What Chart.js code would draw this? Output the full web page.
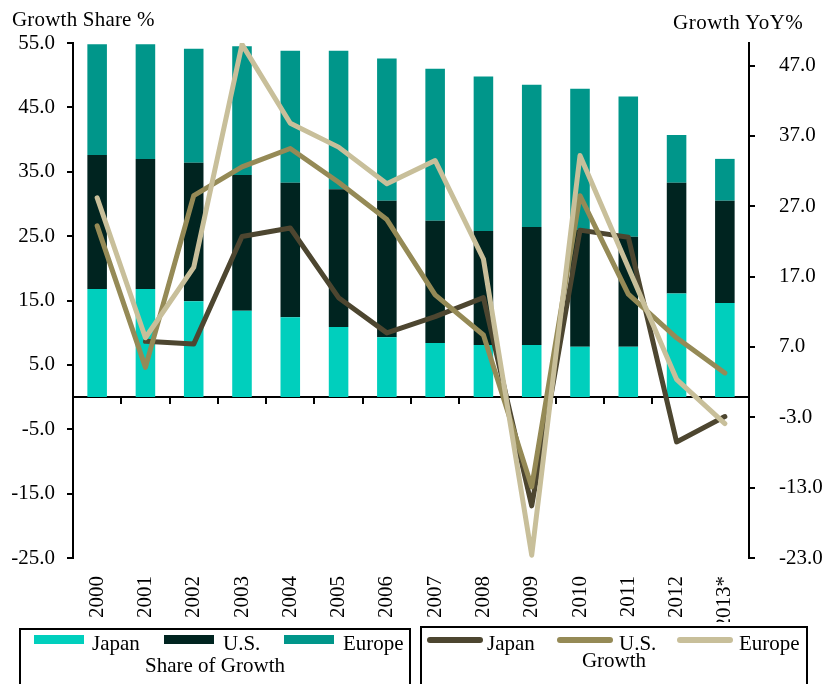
<!DOCTYPE html>
<html>
<head>
<meta charset="utf-8">
<script src="https://cdn.jsdelivr.net/npm/chart.js@4.4.1/dist/chart.umd.min.js"></script>
<style>
  html, body { margin: 0; padding: 0; background: #fff; }
  #wrap { position: relative; width: 826px; height: 684px; overflow: hidden;
          font-family: 'Liberation Serif', 'Times New Roman', serif; font-size: 21px; color: #000; }
  #wrap canvas { position: absolute; left: 0; top: 0; }
  .t { position: absolute; line-height: 21px; white-space: nowrap; }
  .box { position: absolute; border: 2px solid #000; box-sizing: border-box; }
  .sw { position: absolute; }
</style>
</head>
<body>
<div id="wrap">
  <canvas id="c" width="826" height="684"></canvas>
  <div class="t" style="left:12px;top:9px;letter-spacing:0.2px;">Growth Share %</div>
  <div class="t" style="left:673px;top:12px;letter-spacing:0.5px;">Growth YoY%</div>
  <div class="box" id="legShare" style="left:19px;top:628px;width:392px;height:70px;"></div>
  <div class="box" id="legGrowth" style="left:420px;top:626px;width:388px;height:70px;"></div>
</div>
<script>
// Categories
const years = ['2000', '2001', '2002', '2003', '2004', '2005', '2006', '2007', '2008', '2009', '2010', '2011', '2012', '2013*'];

// Share of growth (%), stacked bars: Japan + U.S. + Europe
const shareJapan  = [16.8, 16.8, 14.9, 13.4, 12.4, 10.9, 9.3, 8.4, 8.1, 8.1, 7.8, 7.8, 16.1, 14.6];
const shareUS     = [20.8, 20.2, 21.5, 21.1, 20.9, 21.4, 21.2, 19.0, 17.7, 18.3, 18.2, 17.1, 17.2, 15.9];
const shareEurope = [17.2, 17.8, 17.7, 20.0, 20.5, 21.5, 22.1, 23.6, 24.0, 22.1, 21.9, 21.8, 7.4, 6.5];

// Growth year on year (%), lines on the right axis
const growthJapan  = [null, 7.8, 7.4, 22.7, 23.9, 14.0, 9.0, 11.3, 14.0, -15.6, 23.6, 22.6, -6.5, -2.9];
const growthUS     = [24.2, 4.1, 28.5, 32.6, 35.2, 30.4, 25.1, 14.4, 8.7, -12.9, 28.5, 14.5, 8.3, 3.3];
const growthEurope = [28.2, 8.3, 18.3, 50.0, 38.8, 35.4, 30.2, 33.5, 19.5, -22.6, 34.2, 18.3, 2.4, -3.9];

// Axis tick values
const leftTicks  = [-25, -15, -5, 5, 15, 25, 35, 45, 55];
const rightTicks = [-23, -13, -3, 7, 17, 27, 37, 47];

const seriesNames = ['Japan', 'U.S.', 'Europe'];
const barColors  = ['#00CFBD', '#002420', '#00968A'];
const lineColors = ['#4D4630', '#958A56', '#C8BF9A'];

const FONT = { family: "'Liberation Serif', 'Times New Roman', serif", size: 21 };

const barSet = (label, data, color) => ({
  type: 'bar', label, data, backgroundColor: color, borderWidth: 0,
  xAxisID: 'x', yAxisID: 'y', stack: 'share', order: 4,
  barPercentage: 0.405, categoryPercentage: 1.0
});
const lineSet = (label, data, color, order) => ({
  type: 'line', label, data, borderColor: color, backgroundColor: color,
  borderWidth: 5, pointRadius: 0, pointHoverRadius: 0, fill: false, tension: 0,
  borderCapStyle: 'round', borderJoinStyle: 'round',
  xAxisID: 'x', yAxisID: 'y1', order
});

new Chart(document.getElementById('c'), {
  type: 'bar',
  data: {
    labels: years,
    datasets: [
      barSet('Japan', shareJapan, barColors[0]),
      barSet('U.S.', shareUS, barColors[1]),
      barSet('Europe', shareEurope, barColors[2]),
      lineSet('Japan', growthJapan, lineColors[0], 3),
      lineSet('U.S.', growthUS, lineColors[1], 2),
      lineSet('Europe', growthEurope, lineColors[2], 1)
    ]
  },
  options: {
    responsive: false,
    devicePixelRatio: 1,
    animation: false,
    layout: { padding: { top: 43, bottom: 62, left: 0, right: 0 } },
    plugins: { legend: { display: false }, tooltip: { enabled: false } },
    scales: {
      x: {
        type: 'category', offset: true, stacked: true,
        grid: { display: false, offset: true },
        border: { display: false },
        ticks: { minRotation: 90, maxRotation: 90, autoSkip: false, padding: 10, font: FONT, color: '#000' },
        afterFit: s => { s.height = 64; }
      },
      x2: {
        type: 'category', position: { y: 0 }, offset: true,
        grid: { offset: true, drawOnChartArea: false, drawTicks: true, tickLength: 6, lineWidth: 2, color: '#000' },
        border: { display: true, width: 2, color: '#000' },
        ticks: { display: false }
      },
      y: {
        type: 'linear', position: 'left', stacked: true, min: -25, max: 55,
        afterBuildTicks: s => { s.ticks = leftTicks.map(v => ({ value: v })); },
        ticks: { callback: v => Number(v).toFixed(1), padding: 12, font: FONT, color: '#000' },
        grid: { drawOnChartArea: false, drawTicks: true, tickLength: 6, lineWidth: 2, color: '#000' },
        border: { display: true, width: 2, color: '#000' },
        afterFit: s => { s.width = 73; }
      },
      y1: {
        type: 'linear', position: 'right', stacked: false, min: -23, max: 50.2,
        afterBuildTicks: s => { s.ticks = rightTicks.map(v => ({ value: v })); },
        ticks: { callback: v => Number(v).toFixed(1), padding: 24, font: FONT, color: '#000' },
        grid: { drawOnChartArea: false, drawTicks: true, tickLength: 6, lineWidth: 2, color: '#000' },
        border: { display: true, width: 2, color: '#000' },
        afterFit: s => { s.width = 77; }
      }
    }
  }
});

// Boxed legends under the plot
function addText(parent, txt, left, top, center) {
  const d = document.createElement('div');
  d.className = 't';
  d.textContent = txt;
  d.style.top = top + 'px';
  if (center) { d.style.left = '0'; d.style.width = '100%'; d.style.textAlign = 'center'; }
  else d.style.left = left + 'px';
  parent.appendChild(d);
}
const legShare = document.getElementById('legShare');
const legGrowth = document.getElementById('legGrowth');
// Positions are relative to each box's padding edge (border is 2px)
const shareSw = [13, 143, 263], shareTx = [71, 202, 322];
seriesNames.forEach((n, i) => {
  const s = document.createElement('div');
  s.className = 'sw';
  Object.assign(s.style, { left: shareSw[i] + 'px', top: '5px', width: '50px', height: '9px', background: barColors[i] });
  legShare.appendChild(s);
  addText(legShare, n, shareTx[i], 2.5);
});
addText(legShare, 'Share of Growth', 0, 24.5, true);

const growSw = [5, 135, 255], growTx = [65, 197, 317];
seriesNames.forEach((n, i) => {
  const s = document.createElement('div');
  s.className = 'sw';
  Object.assign(s.style, { left: growSw[i] + 'px', top: '9px', width: '56px', height: '6px', background: lineColors[i], borderRadius: '3px' });
  legGrowth.appendChild(s);
  addText(legGrowth, n, growTx[i], 4.5);
});
addText(legGrowth, 'Growth', 0, 21.5, true);
</script>
</body>
</html>
